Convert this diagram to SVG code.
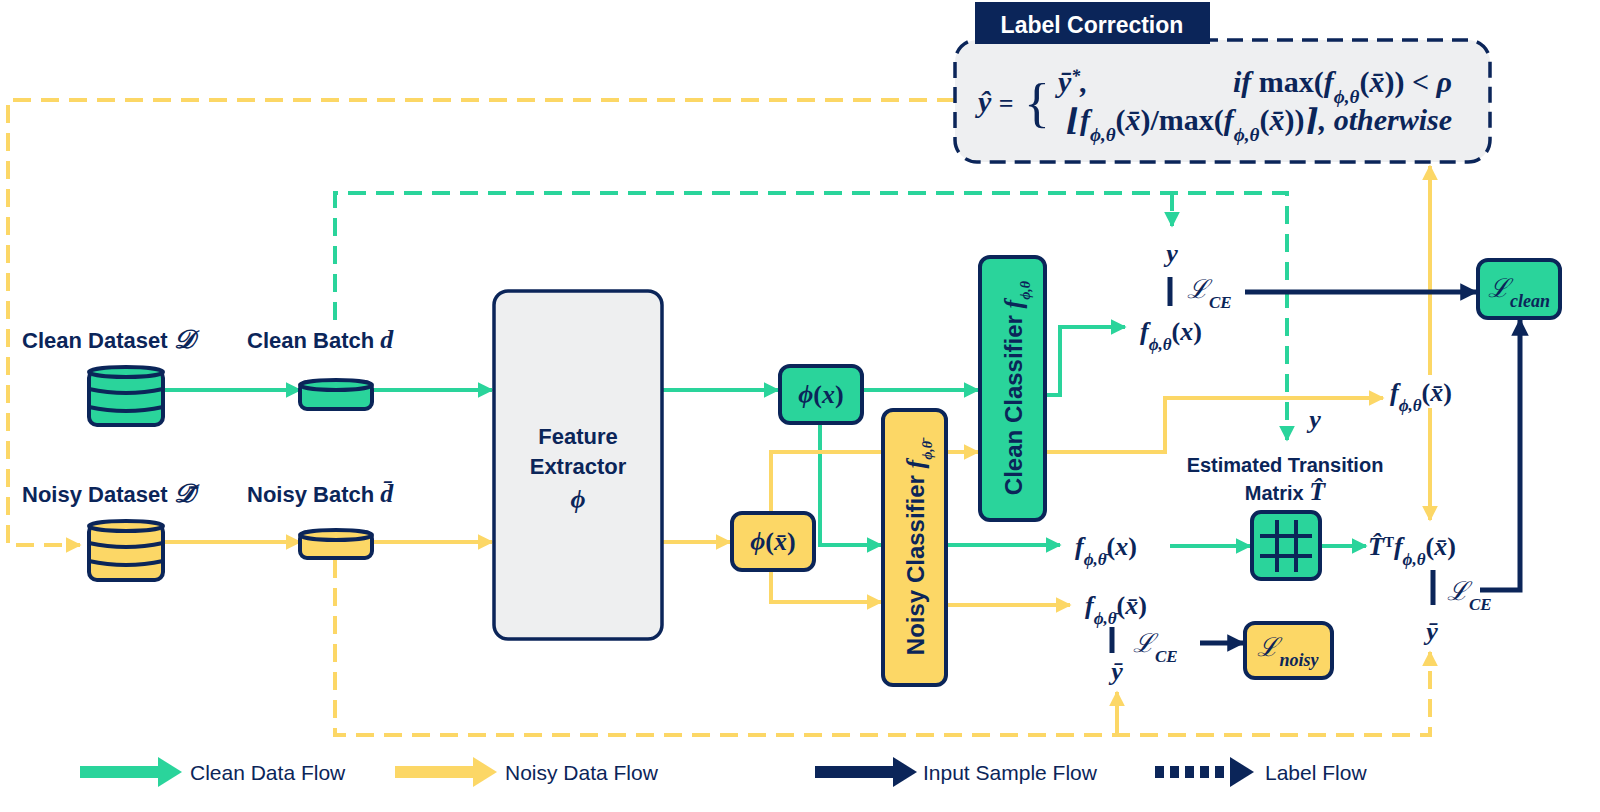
<svg xmlns="http://www.w3.org/2000/svg" width="1600" height="812" viewBox="0 0 1600 812">
<defs>
<style>
.lbl{font-family:"Liberation Sans",Arial,sans-serif;font-weight:bold;fill:#0b2559;font-size:22px}
.m{font-family:"Liberation Serif","DejaVu Serif",serif;font-weight:bold;font-style:italic;fill:#0b2559;font-size:26px}
.mu{font-family:"Liberation Serif","DejaVu Serif",serif;font-weight:bold;fill:#0b2559;font-size:26px}
.g{stroke:#2ad49b;stroke-width:4;fill:none}
.y{stroke:#fcd766;stroke-width:4;fill:none}
.n{stroke:#0b2559;stroke-width:5;fill:none}
.gd{stroke:#2ad49b;stroke-width:4;fill:none;stroke-dasharray:18 10}
.yd{stroke:#fcd766;stroke-width:4;fill:none;stroke-dasharray:18 10}
.bg{fill:#2ad49b;stroke:#0b2559;stroke-width:4}
.by{fill:#fcd766;stroke:#0b2559;stroke-width:4}
.leg{font-family:"Liberation Sans",Arial,sans-serif;fill:#0b2559;font-size:21px}
</style>
<marker id="ag" viewBox="0 0 10 10" refX="9" refY="5" markerWidth="4" markerHeight="4" orient="auto"><path d="M0,0L10,5L0,10z" fill="#2ad49b"/></marker>
<marker id="ay" viewBox="0 0 10 10" refX="9" refY="5" markerWidth="4" markerHeight="4" orient="auto"><path d="M0,0L10,5L0,10z" fill="#fcd766"/></marker>
<marker id="an" viewBox="0 0 10 10" refX="9" refY="5" markerWidth="3.5" markerHeight="3.5" orient="auto"><path d="M0,0L10,5L0,10z" fill="#0b2559"/></marker>
</defs>
<rect width="1600" height="812" fill="#fff"/>

<g id="connectors">
<path class="yd" d="M955,100H8V545H80" marker-end="url(#ay)"/>
<path class="gd" d="M335,320V193H1287V440" marker-end="url(#ag)"/>
<path class="gd" d="M1172,193V226" marker-end="url(#ag)"/>
<path class="yd" d="M335,560V735H1430V652" marker-end="url(#ay)"/>
<path class="y" d="M1117,735V692" marker-end="url(#ay)"/>
<path class="g" d="M163,390H300" marker-end="url(#ag)"/>
<path class="g" d="M372,390H492" marker-end="url(#ag)"/>
<path class="y" d="M163,542H300" marker-end="url(#ay)"/>
<path class="y" d="M372,542H492" marker-end="url(#ay)"/>
<path class="g" d="M662,390H778" marker-end="url(#ag)"/>
<path class="g" d="M862,390H978" marker-end="url(#ag)"/>
<path class="y" d="M662,542H730" marker-end="url(#ay)"/>
<path class="g" d="M820,423V545H881" marker-end="url(#ag)"/>
<path class="y" d="M771,513V452H978" marker-end="url(#ay)"/>
<path class="y" d="M771,570V602H881" marker-end="url(#ay)"/>
<path class="g" d="M1045,395H1060V327H1125" marker-end="url(#ag)"/>
<path class="y" d="M1045,452H1165V398H1383" marker-end="url(#ay)"/>
<path class="g" d="M946,545H1060" marker-end="url(#ag)"/>
<path class="y" d="M946,605H1070" marker-end="url(#ay)"/>
<path class="g" d="M1170,546H1250" marker-end="url(#ag)"/>
<path class="g" d="M1322,546H1366" marker-end="url(#ag)"/>
<path class="y" d="M1430,375V166" marker-end="url(#ay)"/>
<path class="y" d="M1430,408V520" marker-end="url(#ay)"/>
<path class="n" d="M1245,292H1476" marker-end="url(#an)"/>
<path class="n" d="M1480,590H1520V320" marker-end="url(#an)"/>
<path class="n" d="M1200,643H1243" marker-end="url(#an)"/>
<line x1="1170" y1="277" x2="1170" y2="306" class="n"/>
<line x1="1433" y1="570" x2="1433" y2="605" class="n"/>
<line x1="1112" y1="627" x2="1112" y2="653" class="n"/>
</g>

<g id="label-correction">
<rect x="955" y="40" width="535" height="122" rx="22" fill="#eeeff1" stroke="#0b2559" stroke-width="3.5" stroke-dasharray="16 9"/>
<rect x="975" y="2" width="235" height="42" fill="#0b2559"/>
<text x="1092" y="33" text-anchor="middle" class="lbl" style="fill:#fff;font-size:23px">Label Correction</text>
<text x="978" y="112" class="m" style="font-size:30px">ŷ <tspan class="mu" style="font-style:normal">=</tspan></text>
<text x="1024" y="121" class="mu" style="font-size:54px;font-weight:normal">{</text>
<text x="1058" y="92" class="m" style="font-size:30px">ȳ<tspan baseline-shift="super" font-size="18">*</tspan>,</text>
<text x="1452" y="92" text-anchor="end" class="m" style="font-size:30px">if <tspan class="mu" style="font-style:normal;font-size:30px">max(</tspan>f<tspan font-size="19" baseline-shift="sub">ϕ,θ</tspan><tspan style="font-style:normal">(</tspan>x̄<tspan style="font-style:normal">)) &lt;</tspan> ρ</text>
<text x="1452" y="130" text-anchor="end" class="m" style="font-size:30px">⌊f<tspan font-size="19" baseline-shift="sub">ϕ,θ</tspan><tspan style="font-style:normal">(</tspan>x̄<tspan style="font-style:normal">)/max(</tspan>f<tspan font-size="19" baseline-shift="sub">ϕ,θ</tspan><tspan style="font-style:normal">(</tspan>x̄<tspan style="font-style:normal">))</tspan>⌉, otherwise</text>
</g>

<g id="clean-dataset">
<text x="22" y="348" class="lbl">Clean Dataset <tspan class="m">𝒟</tspan></text>
<rect x="89" y="370" width="74" height="55" rx="8" class="bg"/>
<ellipse cx="126" cy="372" rx="37" ry="5" class="bg"/>
<path d="M89,389Q126,397 163,389M89,407Q126,415 163,407" stroke="#0b2559" stroke-width="4" fill="none"/>
</g>
<g id="clean-batch">
<text x="247" y="348" class="lbl">Clean Batch <tspan class="m">d</tspan></text>
<rect x="300" y="382" width="72" height="27" rx="7" class="bg"/>
<ellipse cx="336" cy="385" rx="36" ry="5" class="bg"/>
</g>
<g id="noisy-dataset">
<text x="22" y="502" class="lbl">Noisy Dataset <tspan class="m">𝒟̄</tspan></text>
<rect x="89" y="524" width="74" height="56" rx="8" class="by"/>
<ellipse cx="126" cy="526" rx="37" ry="5" class="by"/>
<path d="M89,543Q126,551 163,543M89,561Q126,569 163,561" stroke="#0b2559" stroke-width="4" fill="none"/>
</g>
<g id="noisy-batch">
<text x="247" y="502" class="lbl">Noisy Batch <tspan class="m">d̄</tspan></text>
<rect x="300" y="532" width="72" height="26" rx="7" class="by"/>
<ellipse cx="336" cy="535" rx="36" ry="5" class="by"/>
</g>

<g id="feature-extractor">
<rect x="494" y="291" width="168" height="348" rx="14" fill="#eeeff0" stroke="#0b2559" stroke-width="3.5"/>
<text x="578" y="444" text-anchor="middle" class="lbl">Feature</text>
<text x="578" y="474" text-anchor="middle" class="lbl">Extractor</text>
<text x="578" y="508" text-anchor="middle" class="m">ϕ</text>
</g>
<g id="phi-x">
<rect x="780" y="366" width="82" height="57" rx="10" class="bg"/>
<text x="821" y="403" text-anchor="middle" class="m">ϕ<tspan style="font-style:normal">(</tspan>x<tspan style="font-style:normal">)</tspan></text>
</g>
<g id="phi-xbar">
<rect x="732" y="513" width="82" height="57" rx="10" class="by"/>
<text x="773" y="550" text-anchor="middle" class="m">ϕ<tspan style="font-style:normal">(</tspan>x̄<tspan style="font-style:normal">)</tspan></text>
</g>
<g id="clean-classifier">
<rect x="980" y="257" width="65" height="263" rx="10" class="bg"/>
<text transform="translate(1022,388) rotate(-90)" text-anchor="middle" class="lbl" style="font-size:24px">Clean Classifier <tspan class="m">f<tspan font-size="14" baseline-shift="sub">ϕ,θ</tspan></tspan></text>
</g>
<g id="noisy-classifier">
<rect x="883" y="410" width="63" height="275" rx="10" class="by"/>
<text transform="translate(924,548) rotate(-90)" text-anchor="middle" class="lbl" style="font-size:24px">Noisy Classifier <tspan class="m">f<tspan font-size="14" baseline-shift="sub">ϕ,θ̄</tspan></tspan></text>
</g>

<g id="clean-output">
<text x="1172" y="262" text-anchor="middle" class="m">y</text>
<text x="1187" y="298" class="m" style="font-weight:normal">ℒ<tspan font-size="17" baseline-shift="sub" font-weight="bold">CE</tspan></text>
<text x="1140" y="340" class="m">f<tspan font-size="17" baseline-shift="sub">ϕ,θ</tspan><tspan style="font-style:normal">(</tspan>x<tspan style="font-style:normal">)</tspan></text>
</g>
<g id="clean-xbar-output">
<text x="1390" y="401" class="m">f<tspan font-size="17" baseline-shift="sub">ϕ,θ</tspan><tspan style="font-style:normal">(</tspan>x̄<tspan style="font-style:normal">)</tspan></text>
<text x="1315" y="428" text-anchor="middle" class="m">y</text>
</g>
<g id="l-clean">
<rect x="1478" y="260" width="82" height="58" rx="10" class="bg"/>
<text x="1519" y="297" text-anchor="middle" class="m" style="font-weight:normal">ℒ<tspan font-size="18" baseline-shift="sub" font-weight="bold">clean</tspan></text>
</g>
<g id="transition-matrix">
<text x="1285" y="472" text-anchor="middle" class="lbl" style="font-size:20px">Estimated Transition</text>
<text x="1285" y="500" text-anchor="middle" class="lbl" style="font-size:20px">Matrix <tspan class="m">T̂</tspan></text>
<rect x="1252" y="512" width="68" height="67" rx="9" class="bg"/>
<path d="M1277,520V572M1296,520V572M1260,536H1312M1260,556H1312" stroke="#0b2559" stroke-width="4"/>
</g>
<g id="noisy-outputs">
<text x="1075" y="555" class="m">f<tspan font-size="17" baseline-shift="sub">ϕ,θ̄</tspan><tspan style="font-style:normal">(</tspan>x<tspan style="font-style:normal">)</tspan></text>
<text x="1085" y="614" class="m">f<tspan font-size="17" baseline-shift="sub">ϕ,θ̄</tspan><tspan style="font-style:normal">(</tspan>x̄<tspan style="font-style:normal">)</tspan></text>
<text x="1133" y="652" class="m" style="font-weight:normal">ℒ<tspan font-size="17" baseline-shift="sub" font-weight="bold">CE</tspan></text>
<text x="1117" y="680" text-anchor="middle" class="m">ȳ</text>
</g>
<g id="l-noisy">
<rect x="1245" y="623" width="87" height="55" rx="10" class="by"/>
<text x="1288" y="656" text-anchor="middle" class="m" style="font-weight:normal">ℒ<tspan font-size="18" baseline-shift="sub" font-weight="bold">noisy</tspan></text>
</g>
<g id="corrected-output">
<text x="1368" y="555" class="m">T̂<tspan font-size="15" baseline-shift="super" style="font-style:normal">T</tspan>f<tspan font-size="17" baseline-shift="sub">ϕ,θ</tspan><tspan style="font-style:normal">(</tspan>x̄<tspan style="font-style:normal">)</tspan></text>
<text x="1447" y="600" class="m" style="font-weight:normal">ℒ<tspan font-size="17" baseline-shift="sub" font-weight="bold">CE</tspan></text>
<text x="1432" y="640" text-anchor="middle" class="m">ȳ</text>
</g>

<g id="legend">
<path d="M80,772H160" stroke="#2ad49b" stroke-width="12"/><path d="M158,757L182,772L158,787z" fill="#2ad49b"/>
<text x="190" y="780" class="leg">Clean Data Flow</text>
<path d="M395,772H475" stroke="#fcd766" stroke-width="12"/><path d="M473,757L497,772L473,787z" fill="#fcd766"/>
<text x="505" y="780" class="leg">Noisy Data Flow</text>
<path d="M815,772H895" stroke="#0b2559" stroke-width="12"/><path d="M893,757L917,772L893,787z" fill="#0b2559"/>
<text x="923" y="780" class="leg">Input Sample Flow</text>
<path d="M1155,772H1230" stroke="#0b2559" stroke-width="12" stroke-dasharray="9 6"/><path d="M1230,757L1254,772L1230,787z" fill="#0b2559"/>
<text x="1265" y="780" class="leg">Label Flow</text>
</g>
</svg>
